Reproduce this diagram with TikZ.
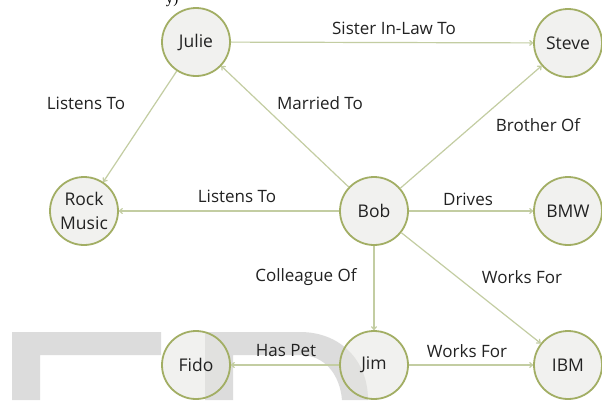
\documentclass[tikz,border=0pt]{standalone}
\usepackage{fontspec}
\setmainfont{Open Sans}
\newfontfamily\serifpart{Liberation Serif}
\usetikzlibrary{arrows.meta}
\definecolor{ringc}{HTML}{A2AE64}
\definecolor{linec}{HTML}{C3CDA2}
\definecolor{fillc}{HTML}{E6E6E2}
\definecolor{markc}{HTML}{DCDCDC}
\definecolor{textc}{HTML}{222222}
\tikzset{
  ent/.style={circle, draw=ringc, line width=1.8pt, fill=fillc, fill opacity=0.55,
    text opacity=1, draw opacity=1, minimum size=68pt, inner sep=0pt, align=center,
    text=textc, font=\fontsize{17.5}{24}\selectfont},
  rel/.style={draw=linec, line width=1.2pt, -{To[length=4pt,width=6pt]}},
  lab/.style={text=textc, font=\fontsize{17}{18}\selectfont, inner sep=1pt},
}
\begin{document}
\begin{tikzpicture}[x=1pt,y=-1pt]
\useasboundingbox (0,0) rectangle (602,400);
\fill[white] (0,0) rectangle (602,400);
% watermark
\fill[markc] (12,332) -- (161,332) -- (161,355) -- (40,355) -- (40,400) -- (12,400) -- cycle;
\fill[markc] (205,332) -- (300,332) .. controls (340,332) and (368,360) .. (368,400)
  -- (342,400) .. controls (340,375) and (325,355) .. (300,355) -- (233,355) -- (233,400) -- (205,400) -- cycle;
% cut-off text at top
\node[anchor=base, font=\serifpart\fontsize{15}{16}\selectfont, inner sep=0pt] (topfrag) at (172,3) {y)};
% entities
\node[ent] (julie) at (196,42) {Julie};
\node[ent] (steve) at (568,43) {Steve};
\node[ent] (rock) at (84,211) {Rock\\Music};
\node[ent] (bob) at (374,211) {Bob};
\node[ent] (bmw) at (568,211) {BMW};
\node[ent] (fido) at (196,365) {Fido};
\node[ent] (jim) at (374,365) {Jim};
\node[ent] (ibm) at (568,365) {IBM};
% relations
\draw[rel] (julie) -- (steve);
\draw[rel] (bob) -- (julie);
\draw[rel] (julie) -- (rock);
\draw[rel] (bob) -- (steve);
\draw[rel] (bob) -- (rock);
\draw[rel] (bob) -- (bmw);
\draw[rel] (bob) -- (ibm);
\draw[rel] (bob) -- (jim);
\draw[rel] (jim) -- (fido);
\draw[rel] (jim) -- (ibm);
% labels
\node[lab] (l1) at (394,28) {Sister In-Law To};
\node[lab] (l2) at (86,103) {Listens To};
\node[lab] (l3) at (320,103) {Married To};
\node[lab] (l4) at (538,125) {Brother Of};
\node[lab] (l5) at (237,196) {Listens To};
\node[lab] (l6) at (468,199) {Drives};
\node[lab] (l7) at (522,277) {Works For};
\node[lab] (l8) at (306,277) {Colleague Of};
\node[lab] (l9) at (286,351) {Has Pet};
\node[lab] (l10) at (467,351) {Works For};
\end{tikzpicture}
\end{document}
